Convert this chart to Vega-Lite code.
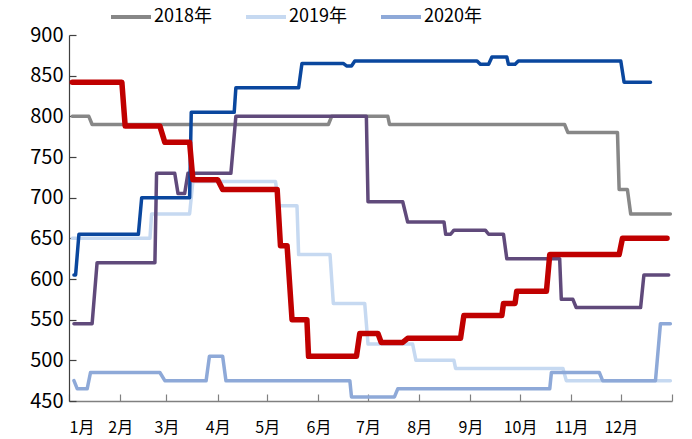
{
  "$schema": "https://vega.github.io/schema/vega-lite/v6.json",
  "width": 603,
  "height": 366,
  "autosize": {"type": "none"},
  "padding": {"left": 69, "top": 35, "right": 20, "bottom": 38},
  "background": "white",
  "config": {
    "font": "Noto Sans CJK SC",
    "view": {"stroke": null},
    "axis": {"grid": false, "labelColor": "#000000", "labelFont": "Noto Sans CJK SC"}
  },
  "data": {"values": [
    {"series": "2018年", "date": "2021-01-03", "price": 800},
    {"series": "2018年", "date": "2021-01-13", "price": 800},
    {"series": "2018年", "date": "2021-01-15", "price": 790},
    {"series": "2018年", "date": "2021-06-07", "price": 790},
    {"series": "2018年", "date": "2021-06-09", "price": 800},
    {"series": "2018年", "date": "2021-07-13", "price": 800},
    {"series": "2018年", "date": "2021-07-14", "price": 790},
    {"series": "2018年", "date": "2021-10-28", "price": 790},
    {"series": "2018年", "date": "2021-10-30", "price": 780},
    {"series": "2018年", "date": "2021-11-29", "price": 780},
    {"series": "2018年", "date": "2021-11-30", "price": 710},
    {"series": "2018年", "date": "2021-12-05", "price": 710},
    {"series": "2018年", "date": "2021-12-07", "price": 680},
    {"series": "2018年", "date": "2021-12-31", "price": 680},

    {"series": "2019年", "date": "2021-01-03", "price": 650},
    {"series": "2019年", "date": "2021-02-19", "price": 650},
    {"series": "2019年", "date": "2021-02-20", "price": 680},
    {"series": "2019年", "date": "2021-03-15", "price": 680},
    {"series": "2019年", "date": "2021-03-17", "price": 720},
    {"series": "2019年", "date": "2021-05-06", "price": 720},
    {"series": "2019年", "date": "2021-05-08", "price": 690},
    {"series": "2019年", "date": "2021-05-19", "price": 690},
    {"series": "2019年", "date": "2021-05-20", "price": 630},
    {"series": "2019年", "date": "2021-06-08", "price": 630},
    {"series": "2019年", "date": "2021-06-10", "price": 570},
    {"series": "2019年", "date": "2021-06-29", "price": 570},
    {"series": "2019年", "date": "2021-07-01", "price": 520},
    {"series": "2019年", "date": "2021-07-28", "price": 520},
    {"series": "2019年", "date": "2021-07-30", "price": 500},
    {"series": "2019年", "date": "2021-08-22", "price": 500},
    {"series": "2019年", "date": "2021-08-23", "price": 490},
    {"series": "2019年", "date": "2021-10-27", "price": 490},
    {"series": "2019年", "date": "2021-10-29", "price": 475},
    {"series": "2019年", "date": "2021-12-31", "price": 475},

    {"series": "2020年", "date": "2021-01-04", "price": 475},
    {"series": "2020年", "date": "2021-01-06", "price": 465},
    {"series": "2020年", "date": "2021-01-12", "price": 465},
    {"series": "2020年", "date": "2021-01-14", "price": 485},
    {"series": "2020年", "date": "2021-02-25", "price": 485},
    {"series": "2020年", "date": "2021-02-28", "price": 475},
    {"series": "2020年", "date": "2021-03-25", "price": 475},
    {"series": "2020年", "date": "2021-03-27", "price": 505},
    {"series": "2020年", "date": "2021-04-04", "price": 505},
    {"series": "2020年", "date": "2021-04-06", "price": 475},
    {"series": "2020年", "date": "2021-06-20", "price": 475},
    {"series": "2020年", "date": "2021-06-21", "price": 455},
    {"series": "2020年", "date": "2021-07-17", "price": 455},
    {"series": "2020年", "date": "2021-07-19", "price": 465},
    {"series": "2020年", "date": "2021-10-19", "price": 465},
    {"series": "2020年", "date": "2021-10-20", "price": 485},
    {"series": "2020年", "date": "2021-11-18", "price": 485},
    {"series": "2020年", "date": "2021-11-20", "price": 475},
    {"series": "2020年", "date": "2021-12-22", "price": 475},
    {"series": "2020年", "date": "2021-12-25", "price": 545},
    {"series": "2020年", "date": "2021-12-31", "price": 545},

    {"series": "2021年", "date": "2021-01-04", "price": 545},
    {"series": "2021年", "date": "2021-01-15", "price": 545},
    {"series": "2021年", "date": "2021-01-18", "price": 620},
    {"series": "2021年", "date": "2021-02-22", "price": 620},
    {"series": "2021年", "date": "2021-02-23", "price": 730},
    {"series": "2021年", "date": "2021-03-06", "price": 730},
    {"series": "2021年", "date": "2021-03-08", "price": 705},
    {"series": "2021年", "date": "2021-03-12", "price": 705},
    {"series": "2021年", "date": "2021-03-14", "price": 730},
    {"series": "2021年", "date": "2021-04-09", "price": 730},
    {"series": "2021年", "date": "2021-04-12", "price": 800},
    {"series": "2021年", "date": "2021-06-30", "price": 800},
    {"series": "2021年", "date": "2021-07-01", "price": 695},
    {"series": "2021年", "date": "2021-07-22", "price": 695},
    {"series": "2021年", "date": "2021-07-25", "price": 670},
    {"series": "2021年", "date": "2021-08-16", "price": 670},
    {"series": "2021年", "date": "2021-08-17", "price": 655},
    {"series": "2021年", "date": "2021-08-20", "price": 655},
    {"series": "2021年", "date": "2021-08-22", "price": 660},
    {"series": "2021年", "date": "2021-09-10", "price": 660},
    {"series": "2021年", "date": "2021-09-12", "price": 655},
    {"series": "2021年", "date": "2021-09-21", "price": 655},
    {"series": "2021年", "date": "2021-09-23", "price": 625},
    {"series": "2021年", "date": "2021-10-25", "price": 625},
    {"series": "2021年", "date": "2021-10-26", "price": 575},
    {"series": "2021年", "date": "2021-11-02", "price": 575},
    {"series": "2021年", "date": "2021-11-04", "price": 565},
    {"series": "2021年", "date": "2021-12-13", "price": 565},
    {"series": "2021年", "date": "2021-12-15", "price": 605},
    {"series": "2021年", "date": "2021-12-30", "price": 605},

    {"series": "2022年", "date": "2021-01-04", "price": 605},
    {"series": "2022年", "date": "2021-01-05", "price": 605},
    {"series": "2022年", "date": "2021-01-07", "price": 655},
    {"series": "2022年", "date": "2021-02-12", "price": 655},
    {"series": "2022年", "date": "2021-02-14", "price": 700},
    {"series": "2022年", "date": "2021-03-15", "price": 700},
    {"series": "2022年", "date": "2021-03-16", "price": 805},
    {"series": "2022年", "date": "2021-04-11", "price": 805},
    {"series": "2022年", "date": "2021-04-12", "price": 835},
    {"series": "2022年", "date": "2021-05-20", "price": 835},
    {"series": "2022年", "date": "2021-05-22", "price": 865},
    {"series": "2022年", "date": "2021-06-16", "price": 865},
    {"series": "2022年", "date": "2021-06-18", "price": 862},
    {"series": "2022年", "date": "2021-06-21", "price": 862},
    {"series": "2022年", "date": "2021-06-23", "price": 868},
    {"series": "2022年", "date": "2021-09-05", "price": 868},
    {"series": "2022年", "date": "2021-09-07", "price": 864},
    {"series": "2022年", "date": "2021-09-12", "price": 864},
    {"series": "2022年", "date": "2021-09-14", "price": 873},
    {"series": "2022年", "date": "2021-09-23", "price": 873},
    {"series": "2022年", "date": "2021-09-24", "price": 864},
    {"series": "2022年", "date": "2021-09-28", "price": 864},
    {"series": "2022年", "date": "2021-09-30", "price": 868},
    {"series": "2022年", "date": "2021-12-01", "price": 868},
    {"series": "2022年", "date": "2021-12-03", "price": 842},
    {"series": "2022年", "date": "2021-12-19", "price": 842},

    {"series": "2023年", "date": "2021-01-03", "price": 842},
    {"series": "2023年", "date": "2021-02-02", "price": 842},
    {"series": "2023年", "date": "2021-02-04", "price": 788},
    {"series": "2023年", "date": "2021-02-25", "price": 788},
    {"series": "2023年", "date": "2021-02-28", "price": 768},
    {"series": "2023年", "date": "2021-03-15", "price": 768},
    {"series": "2023年", "date": "2021-03-17", "price": 722},
    {"series": "2023年", "date": "2021-04-01", "price": 722},
    {"series": "2023年", "date": "2021-04-04", "price": 710},
    {"series": "2023年", "date": "2021-05-07", "price": 710},
    {"series": "2023年", "date": "2021-05-09", "price": 641},
    {"series": "2023年", "date": "2021-05-13", "price": 641},
    {"series": "2023年", "date": "2021-05-16", "price": 550},
    {"series": "2023年", "date": "2021-05-25", "price": 550},
    {"series": "2023年", "date": "2021-05-26", "price": 505},
    {"series": "2023年", "date": "2021-06-24", "price": 505},
    {"series": "2023年", "date": "2021-06-26", "price": 533},
    {"series": "2023年", "date": "2021-07-07", "price": 533},
    {"series": "2023年", "date": "2021-07-09", "price": 522},
    {"series": "2023年", "date": "2021-07-22", "price": 522},
    {"series": "2023年", "date": "2021-07-25", "price": 527},
    {"series": "2023年", "date": "2021-08-26", "price": 527},
    {"series": "2023年", "date": "2021-08-28", "price": 555},
    {"series": "2023年", "date": "2021-09-20", "price": 555},
    {"series": "2023年", "date": "2021-09-21", "price": 570},
    {"series": "2023年", "date": "2021-09-28", "price": 570},
    {"series": "2023年", "date": "2021-09-29", "price": 585},
    {"series": "2023年", "date": "2021-10-17", "price": 585},
    {"series": "2023年", "date": "2021-10-19", "price": 630},
    {"series": "2023年", "date": "2021-11-30", "price": 630},
    {"series": "2023年", "date": "2021-12-02", "price": 650},
    {"series": "2023年", "date": "2021-12-29", "price": 650}
  ]},
  "encoding": {
    "x": {
      "field": "date", "type": "temporal",
      "scale": {"type": "utc", "domain": [{"year": 2021, "month": 1, "date": 1, "utc": true}, {"year": 2022, "month": 1, "date": 1, "utc": true}]},
      "axis": {
        "title": null,
        "values": [
          {"year": 2021, "month": 1, "date": 1, "utc": true},
          {"year": 2021, "month": 2, "date": 1, "utc": true},
          {"year": 2021, "month": 3, "date": 1, "utc": true},
          {"year": 2021, "month": 4, "date": 1, "utc": true},
          {"year": 2021, "month": 5, "date": 1, "utc": true},
          {"year": 2021, "month": 6, "date": 1, "utc": true},
          {"year": 2021, "month": 7, "date": 1, "utc": true},
          {"year": 2021, "month": 8, "date": 1, "utc": true},
          {"year": 2021, "month": 9, "date": 1, "utc": true},
          {"year": 2021, "month": 10, "date": 1, "utc": true},
          {"year": 2021, "month": 11, "date": 1, "utc": true},
          {"year": 2021, "month": 12, "date": 1, "utc": true},
          {"year": 2022, "month": 1, "date": 1, "utc": true}
        ],
        "labelExpr": "utcyear(datum.value) > 2021 ? '' : (utcmonth(datum.value) + 1) + '月'",
        "labelFontSize": 16,
        "labelPadding": 25,
        "tickSize": -7,
        "tickColor": "#808080",
        "domainColor": "#808080",
        "domainWidth": 1.5,
        "tickWidth": 1.2
      }
    },
    "y": {
      "field": "price", "type": "quantitative",
      "scale": {"domain": [450, 900], "zero": false, "nice": false},
      "axis": {
        "title": null,
        "values": [450, 500, 550, 600, 650, 700, 750, 800, 850, 900],
        "labelFontSize": 20,
        "labelPadding": 13,
        "tickSize": -7,
        "tickColor": "#404040",
        "domainColor": "#404040",
        "domainWidth": 1.2,
        "tickWidth": 1.2
      }
    },
    "color": {
      "field": "series", "type": "nominal",
      "scale": {
        "domain": ["2018年", "2019年", "2020年", "2021年", "2022年", "2023年"],
        "range": ["#878787", "#C6D9F1", "#8EA9D8", "#604A7B", "#0A479E", "#C00000"]
      },
      "legend": {
        "title": null,
        "values": ["2018年", "2019年", "2020年"],
        "orient": "none",
        "direction": "horizontal",
        "legendX": 40,
        "legendY": -40,
        "padding": 0,
        "symbolType": "stroke",
        "symbolSize": 1600,
        "symbolStrokeWidth": 4,
        "labelFontSize": 18,
        "labelColor": "#000000",
        "labelOffset": 1,
        "columnPadding": 26
      }
    }
  },
  "layer": [
    {
      "transform": [{"filter": "datum.series != '2023年'"}],
      "mark": {"type": "line", "strokeWidth": 3.5, "strokeCap": "round", "strokeJoin": "round"}
    },
    {
      "transform": [{"filter": "datum.series == '2023年'"}],
      "mark": {"type": "line", "strokeWidth": 5.5, "strokeCap": "round", "strokeJoin": "round"}
    }
  ]
}
